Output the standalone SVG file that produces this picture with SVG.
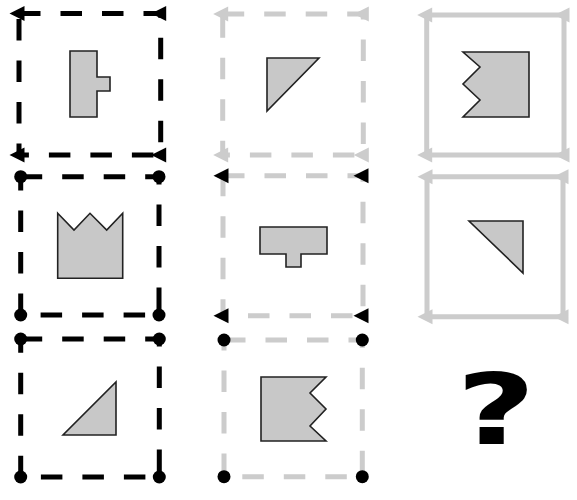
<svg xmlns="http://www.w3.org/2000/svg" xmlns:xlink="http://www.w3.org/1999/xlink" width="577" height="500" viewBox="0 0 577 500">
<style>
.fr{fill:none;stroke-width:5}
.dash{stroke-dasharray:21.5 20}
.blk{stroke:#000}
.gry{stroke:#cccccc}
.mb{fill:#000}
.mg{fill:#cccccc}
.shp{fill:#c8c8c8;stroke:#222;stroke-width:1.6;stroke-linejoin:miter}
.q{font-family:"DejaVu Sans","Liberation Sans",sans-serif;font-weight:bold;font-size:98px;fill:#000}
</style>
<defs>
<path id="tri" d="M-9.5,0 L5.5,-7.5 L5.5,7.5 Z"/>
<circle id="dot" r="6.5" cx="0" cy="0"/>
</defs>
<rect width="577" height="500" fill="#fff"/>

<g id="panel-1-1">
<path class="fr dash blk" d="M19,13.5 H160.7 V155 H19 Z"/>
<use href="#tri" class="mb" x="19" y="13.5"/>
<use href="#tri" class="mb" x="160.7" y="13.5"/>
<use href="#tri" class="mb" x="19" y="155"/>
<use href="#tri" class="mb" x="160.7" y="155"/>
<polygon class="shp" points="70,51 97,51 97,77 110,77 110,91 97,91 97,117 70,117"/>
</g>

<g id="panel-1-2">
<path class="fr dash gry" d="M222.7,14 H363.3 V155 H222.7 Z"/>
<use href="#tri" class="mg" x="222.7" y="14"/>
<use href="#tri" class="mg" x="363.3" y="14"/>
<use href="#tri" class="mg" x="222.7" y="155"/>
<use href="#tri" class="mg" x="363.3" y="155"/>
<polygon class="shp" points="267,58 319,58 267,111"/>
</g>

<g id="panel-1-3">
<path class="fr gry" d="M426.7,15 H564 V155 H426.7 Z"/>
<use href="#tri" class="mg" x="426.7" y="15"/>
<use href="#tri" class="mg" x="564" y="15"/>
<use href="#tri" class="mg" x="426.7" y="155"/>
<use href="#tri" class="mg" x="564" y="155"/>
<polygon class="shp" points="463,52 529,52 529,117 463,117 480,100 463,84 480,67"/>
</g>

<g id="panel-2-1">
<path class="fr dash blk" d="M20.7,176.7 H159 V315 H20.7 Z"/>
<use href="#dot" class="mb" x="20.7" y="176.7"/>
<use href="#dot" class="mb" x="159" y="176.7"/>
<use href="#dot" class="mb" x="20.7" y="315"/>
<use href="#dot" class="mb" x="159" y="315"/>
<polygon class="shp" points="57.7,213.3 74,230 90,213.3 106.7,230 122.7,213.3 122.7,278.3 57.7,278.3"/>
</g>

<g id="panel-2-2">
<path class="fr dash gry" d="M223,175.7 H363 V315.7 H223 Z"/>
<use href="#tri" class="mb" x="223" y="175.7"/>
<use href="#tri" class="mb" x="363" y="175.7"/>
<use href="#tri" class="mb" x="223" y="315.7"/>
<use href="#tri" class="mb" x="363" y="315.7"/>
<polygon class="shp" points="260,227 327,227 327,254 301,254 301,267 286,267 286,254 260,254"/>
</g>

<g id="panel-2-3">
<path class="fr gry" d="M427,176.7 H563 V316.7 H427 Z"/>
<use href="#tri" class="mg" x="427" y="176.7"/>
<use href="#tri" class="mg" x="563" y="176.7"/>
<use href="#tri" class="mg" x="427" y="316.7"/>
<use href="#tri" class="mg" x="563" y="316.7"/>
<polygon class="shp" points="469,221 523,221 523,273"/>
</g>

<g id="panel-3-1">
<path class="fr dash blk" d="M20.7,339 H159.3 V477 H20.7 Z"/>
<use href="#dot" class="mb" x="20.7" y="339"/>
<use href="#dot" class="mb" x="159.3" y="339"/>
<use href="#dot" class="mb" x="20.7" y="477"/>
<use href="#dot" class="mb" x="159.3" y="477"/>
<polygon class="shp" points="63,435 116,435 116,382"/>
</g>

<g id="panel-3-2">
<path class="fr dash gry" d="M224,340 H362.3 V476.7 H224 Z"/>
<use href="#dot" class="mb" x="224" y="340"/>
<use href="#dot" class="mb" x="362.3" y="340"/>
<use href="#dot" class="mb" x="224" y="476.7"/>
<use href="#dot" class="mb" x="362.3" y="476.7"/>
<polygon class="shp" points="261,377 326,377 310,393 326,409 310,426 326,441 261,441"/>
</g>

<g id="panel-3-3">
<text class="q" text-anchor="middle" transform="translate(496,444) scale(1.4,1)">?</text>
</g>
</svg>
